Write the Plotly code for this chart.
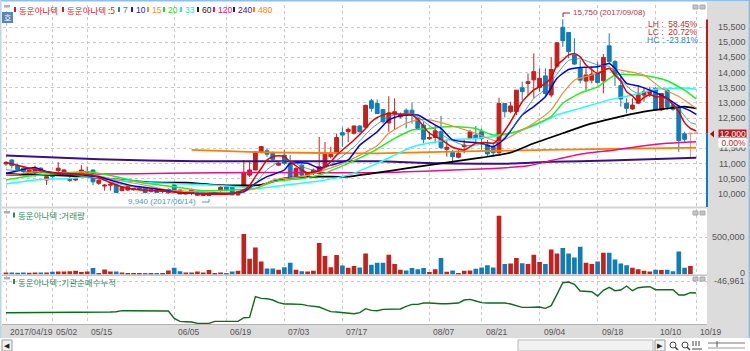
import plotly.graph_objects as go

W, H = 750, 351

opens = [10990,11120,10930,10850,10740,10710,10850,10460,10680,10770,
10720,10450,10460,10680,10700,10790,10350,10260,10290,10300,
10110,10130,10140,10170,10200,10090,10150,10080,10040,10300,
10130,10000,10020,9960,9950,9950,9990,10110,10240,10220,
9970,10290,10620,10790,11390,11420,11340,10950,11280,11010,
10570,10950,10620,10680,10680,10900,11230,11340,12020,12050,
12000,12240,12200,13070,12980,12780,12340,12630,12540,12760,
12760,12490,12270,11820,11860,12050,11470,11370,11210,11560,
11830,11940,12050,11610,11560,11360,12980,12710,12710,13500,
13640,13760,13510,13890,13260,14210,15490,15320,14580,14140,
13720,13750,13970,13730,14880,14360,13570,12990,12800,12990,
13260,13310,13480,12770,13420,12930,12820,11980,11980,12000]
highs = [11080,11140,10990,10910,10820,10930,10880,10630,10720,11050,
10830,10570,10530,10950,10900,10810,10480,10330,10350,10320,
10240,10270,10200,10240,10220,10180,10170,10130,10180,10320,
10150,10060,10180,10040,10050,10050,10070,10260,10260,10240,
10110,11120,11060,11400,11580,11500,11400,11060,11450,11280,
10890,10990,10700,10840,11880,11710,11560,11990,12190,12190,
12250,12260,12940,13130,13110,12800,13220,13150,12680,12820,
13000,12520,12380,12050,12270,12570,11780,11450,11450,11780,
12110,12240,12160,11780,11670,13170,12980,13040,13420,13700,
13970,14630,14140,14140,14500,14980,15750,15320,15130,14410,
14140,14190,14360,14610,15290,14410,13860,13150,13150,13590,
13530,13530,13530,13330,13440,12980,12870,12050,12000,12000]
lows = [10930,10840,10740,10630,10700,10570,10700,10300,10520,10680,
10680,10400,10430,10620,10620,10290,10300,10110,10110,10040,
10090,10100,10110,10130,10020,10050,10030,10020,10010,10060,
9990,9980,9960,9940,9940,9940,9970,10080,10100,9960,
9940,10240,10560,10780,11340,11220,11100,10920,10950,10540,
10540,10590,10550,10620,10640,10880,11170,11320,11550,11710,
11960,12020,12180,12710,12640,12320,12050,12120,12490,12160,
12320,12130,11670,11780,11670,11480,11230,11010,11170,11340,
11800,11670,11450,11230,11230,11320,12520,12660,12600,13090,
13260,13150,13370,13200,13180,14140,14850,14470,14250,13640,
13420,13640,13640,13320,14300,13560,12880,12660,12770,12960,
13040,13200,12740,12740,12770,12740,11390,11720,11210,12000]
closes = [11040,10940,10810,10740,10790,10820,10740,10570,10570,10850,
10790,10480,10490,10790,10730,10400,10450,10290,10320,10050,
10220,10240,10170,10200,10050,10150,10050,10110,10150,10080,
10000,10040,10130,10020,10020,10020,10040,10220,10130,9970,
10080,10710,10790,11390,11560,11310,11140,11010,11010,10550,
10840,10620,10680,10790,10900,11310,11340,11860,11940,12130,
12240,12050,12920,12820,12650,12380,12670,12710,12630,12600,
12600,12160,11800,11860,12080,11530,11540,11230,11340,11610,
12050,11830,11830,11320,11360,12980,12710,12900,13420,13370,
13700,14030,13810,13310,14100,14980,15050,14690,14280,13750,
13920,13950,13670,14500,14360,13950,13130,12820,12930,13260,
13370,13420,12770,13310,12870,12790,11760,11800,12000,12000]
volume_k = [27,27,23,27,23,27,27,27,36,41,41,45,50,32,41,86,18,68,41,41,
27,18,14,14,18,18,18,18,54,90,45,27,27,41,27,59,18,27,18,41,
50,545,212,365,176,81,81,63,99,158,63,45,41,50,423,248,99,261,122,90,
113,95,284,131,158,158,266,140,63,54,86,72,86,32,72,221,36,54,18,50,
54,77,95,126,95,792,140,149,221,153,140,266,167,140,338,284,356,284,230,374,
158,140,176,293,293,203,149,126,90,72,50,41,63,59,63,45,311,90,113,0]
inst_k = [-142,-142,-142,-142,-142,-142,-142,-140,-140,-140,-140,-140,-140,-140,-140,-140,-140,-140,-140,-139,
-136,-136,-136,-136,-136,-136,-136,-136,-137,-159,-168,-169,-170,-174,-174,-174,-168,-168,-168,-168,
-168,-157,-156,-94,-99,-100,-104,-112,-116,-116,-116,-117,-121,-124,-125,-132,-139,-140,-142,-145,
-145,-142,-130,-135,-136,-132,-131,-131,-131,-123,-117,-117,-113,-113,-115,-115,-115,-113,-113,-104,
-102,-107,-112,-113,-113,-115,-113,-116,-121,-126,-126,-125,-125,-129,-121,-87,-52,-50,-57,-77,
-77,-79,-92,-75,-66,-76,-74,-62,-76,-67,-65,-64,-73,-73,-73,-73,-89,-89,-82,-83]

ma5_i = [0,3,6,9,12,15,18,21,24,27,30,33,36,39,41,42,43,44,45,46,47,48,49,50,51,52,54,55,56,57,58,60,62,63,64,66,68,70,71,72,73,75,77,79,81,83,84,85,87,89,91,93,94,95,96,97,98,99,100,102,103,104,105,106,107,108,109,110,111,112,113,114,115,116,117,118,119]
ma5_v = [11040,10900,10770,10680,10660,10620,10370,10190,10120,10100,10050,10010,9990,10010,10130,10280,10570,10840,11120,11230,11260,11230,11060,10930,10790,10700,10770,10900,11060,11280,11450,11780,12160,12380,12520,12660,12630,12600,12460,12220,12000,11800,11540,11450,11670,11690,11670,11830,12380,13040,13430,13640,13840,14250,14410,14580,14630,14520,14250,13970,14060,14140,13920,13720,13370,13230,13040,13180,13280,13200,13200,13150,12930,12710,12350,12160,12080]
ma7_i = [0,6,12,18,24,30,36,41,43,45,47,49,51,54,57,60,63,66,70,73,76,79,83,85,87,89,91,93,95,97,99,102,104,106,108,110,112,114,116,118,119]
ma7_v = [10800,10700,10640,10400,10150,10060,10000,10050,10350,10800,11050,11100,10900,10750,11100,11550,12150,12550,12650,12250,11850,11600,11650,11700,12100,12600,13150,13450,13950,14400,14450,14250,14200,13750,13400,13250,13250,13100,12800,12350,12300]
ma10_i = [0,3,5,7,9,12,14,16,19,22,25,28,30,33,36,39,41,43,45,48,49,52,54,56,59,61,64,66,68,71,73,75,77,79,82,84,86,89,91,93,95,97,99,102,104,105,107,109,111,114,116,118,119]
ma10_v = [10680,10810,10870,10730,10680,10660,10600,10570,10400,10260,10190,10110,10040,10020,10020,10020,10070,10350,10570,10790,11010,11010,10850,10950,11120,11610,12050,12440,12580,12600,12380,12160,11780,11720,11670,11560,11830,12600,12880,13200,13810,14100,14170,14190,14300,14140,13640,13560,13420,13150,12900,12740,12620]
ma15_i = [0,5,9,14,19,24,28,33,39,43,46,51,54,58,61,64,66,69,71,73,77,81,85,88,91,94,96,98,101,104,106,110,113,116,119]
ma15_v = [10620,10730,10700,10680,10460,10290,10130,10080,10040,10180,10460,10570,10730,11000,11280,11590,12000,12330,12440,12440,12240,12000,11720,12000,12330,12770,13320,13750,13920,14140,14080,13920,13480,13210,12820]
ma20_i = [0,4,8,14,19,24,29,34,39,43,46,51,54,59,62,64,67,70,73,77,81,84,88,91,94,96,99,102,105,109,112,114,117,119]
ma20_v = [10460,10590,10660,10730,10570,10350,10240,10110,10130,10180,10400,10510,10620,11010,11280,11480,11830,12110,12160,12220,12160,11940,12050,12270,12550,12990,13320,13530,13920,13920,13840,13730,13420,13130]
ma33_i = [0,5,11,14,19,25,31,36,40,43,48,54,59,64,67,70,76,81,84,88,92,95,99,104,108,112,117,119]
ma33_v = [10330,10460,10510,10570,10480,10370,10330,10290,10240,10180,10290,10430,10620,11010,11280,11550,11780,11830,11890,12050,12330,12600,12820,13100,13260,13450,13490,13450]
ma60_i = [0,8,14,19,25,31,36,40,44,48,54,59,64,69,75,81,87,91,96,100,105,110,114,117,119]
ma60_v = [10680,10620,10570,10480,10380,10370,10300,10280,10300,10510,10570,10570,10700,10840,11010,11170,11360,11670,12000,12270,12510,12710,12820,12880,12820]
ma120_i = [0,17,28,45,64,75,84,90,94,99,105,110,114,119]
ma120_v = [10620,10660,10680,10710,10700,10770,10840,10930,11100,11310,11450,11590,11670,11720]
ma240_i = [0,16,33,64,75,87,94,104,119]
ma240_v = [11270,11140,11075,11075,11010,11000,11060,11100,11195]
ma480_i = [32,45,64,75,87,99,119]
ma480_v = [11450,11370,11340,11390,11430,11470,11525]

price_ticks = [15500,15000,14500,14000,13500,13000,12500,12000,11500,11000,10500,10000]
date_idx = [0,8,14,29,38,48,58,73,82,92,102,112,119]
date_lbl = ["2017/04/19","05/02","05/15","06/05","06/19","07/03","07/17","08/07","08/21","09/04","09/18","10/10","10/19"]

RED, BLUE = "#c4201c", "#0f7db8"
FONT = "Liberation Sans, sans-serif"
KR = "Noto Sans CJK KR"
TXT = "#555555"

def px(x): return x / W
def py(y): return 1 - y / H

idx = list(range(len(opens)))
idx_main = idx[:118]
fig = go.Figure()
fig.add_trace(go.Candlestick(x=idx_main, open=opens[:118], high=highs[:118], low=lows[:118], close=closes[:118],
    increasing=dict(line=dict(color=RED, width=1), fillcolor=RED),
    decreasing=dict(line=dict(color=BLUE, width=1), fillcolor=BLUE), whiskerwidth=0))
fig.add_trace(go.Candlestick(x=idx, open=[None]*118+opens[118:], high=[None]*118+highs[118:], low=[None]*118+lows[118:], close=[None]*118+closes[118:],
    increasing=dict(line=dict(color="#e89090", width=1), fillcolor="#e89090"),
    decreasing=dict(line=dict(color="#e89090", width=1), fillcolor="#e89090"), whiskerwidth=0))

lines = [
    (ma480_i, ma480_v, "#ff8000", 1.8),
    (ma240_i, ma240_v, "#3c0f86", 2),
    (ma120_i, ma120_v, "#e80f88", 1.5),
    (ma60_i, ma60_v, "#000000", 1.8),
    (ma33_i, ma33_v, "#20ffff", 1.5),
    (ma20_i, ma20_v, "#22ee22", 1.5),
    (ma15_i, ma15_v, "#f58a3c", 1.2),
    (ma10_i, ma10_v, "#0000e0", 1.5),
    (ma7_i, ma7_v, "#2a8a8a", 0.8),
    (ma5_i, ma5_v, "#e40000", 1.5),
]
for xs, ys, c, w in lines:
    fig.add_trace(go.Scatter(x=xs, y=ys, mode="lines", line=dict(color=c, width=w, shape="spline", smoothing=0.5)))

vol_colors = [RED if c >= o else BLUE for o, c in zip(opens, closes)]
fig.add_trace(go.Bar(x=idx, y=[v * 1000 for v in volume_k], marker=dict(color=vol_colors, line=dict(width=0)),
                     width=0.8, xaxis="x2", yaxis="y2"))
fig.add_trace(go.Scatter(x=idx, y=[v * 1000 for v in inst_k], mode="lines", line=dict(color="#0e6a1c", width=1.4),
                         xaxis="x3", yaxis="y3"))

xr = [(3 - 6) / 5.8, (707 - 6) / 5.8]
xdom = [px(3), px(707)]
def xax(anchor):
    return dict(domain=xdom, range=xr, anchor=anchor, tickvals=date_idx, showticklabels=False, ticks="",
                showgrid=True, gridcolor="#c9c9c9", griddash="dot", gridwidth=1, zeroline=False, showline=False,
                rangeslider=dict(visible=False), fixedrange=True)
def yax(dom, rng, vals, anchor):
    return dict(domain=[py(dom[1]), py(dom[0])], range=rng, tickvals=vals, showticklabels=False, ticks="",
                showgrid=True, gridcolor="#c9c9c9", griddash="dot", gridwidth=1, zeroline=False, showline=False,
                anchor=anchor, fixedrange=True)

shapes = []
def rect(x0, y0, x1, y1, fill, line=None, layer="below"):
    shapes.append(dict(type="rect", xref="paper", yref="paper", x0=px(x0), x1=px(x1), y0=py(y0), y1=py(y1),
                       fillcolor=fill, line=dict(width=0 if line is None else 1, color=line or fill), layer=layer))
def seg(x0, y0, x1, y1, color, w=1, layer="above"):
    shapes.append(dict(type="line", xref="paper", yref="paper", x0=px(x0), x1=px(x1), y0=py(y0), y1=py(y1),
                       line=dict(color=color, width=w), layer=layer))

rect(0, 0, 750, 351, "#ffffff")
rect(707, 2, 750, 325, "#dcdcdc")
rect(0, 325, 707, 338, "#dcdcdc")
rect(707, 325, 750, 338, "#dcdcdc")
rect(0, 0, 750, 1.5, "#8fc0e8", layer="above")
rect(0, 0, 1.5, 338, "#bcd6ea", layer="above")
rect(748.5, 0, 750, 338, "#8fc0e8", layer="above")
rect(2, 206.5, 707, 208.5, "#d4d4d4", layer="above")
rect(2, 274.5, 707, 276, "#c4c4c4", layer="above")
rect(2, 324, 707, 325, "#b4b4b4", layer="above")
# current price markers on the right edge
shapes.append(dict(type="rect", xref="paper", yref="y", x0=px(706), x1=px(708), y0=12000, y1=15750,
                   fillcolor="#b81c1c", line=dict(width=0), layer="above"))
shapes.append(dict(type="rect", xref="paper", yref="y", x0=px(706), x1=px(708), y0=9571, y1=12000,
                   fillcolor="#0f7db8", line=dict(width=0), layer="above"))
shapes.append(dict(type="path", xref="paper", yref="paper",
                   path=f"M {px(710)},{py(134)} L {px(714)},{py(130.5)} L {px(714)},{py(137.5)} Z",
                   fillcolor="#9a1414", line=dict(width=0), layer="above"))
# small window icons
for y in (5, 211, 277):
    rect(4, y, 10, y + 2.5, "#b0b0b0", layer="above")
    rect(693, y, 698, y + 4, "#c4c4c4", "#a8a8a8", layer="above")
    rect(700, y, 705, y + 4, "#c4c4c4", "#a8a8a8", layer="above")
rect(2, 12, 13, 23, "#5b86b4", layer="above")
# marker lines of the high / low labels
seg(563, 13, 563, 17, "#a82020"); seg(563, 13, 570, 13, "#a82020")
seg(202, 202, 209, 202, "#4a9ac8"); seg(209, 199, 209, 202, "#4a9ac8")
# scrollbar area
rect(2, 340, 12, 351, "#f2f2f2", "#9a9a9a", layer="above")
rect(518, 340, 653, 351, "#f2f2f2", "#b8b8b8", layer="above")
rect(655, 340, 665, 351, "#f2f2f2", "#9a9a9a", layer="above")
for cx in (673, 685):
    shapes.append(dict(type="circle", xref="paper", yref="paper", x0=px(cx - 3), x1=px(cx + 3), y0=py(348), y1=py(342),
                       line=dict(color="#444444", width=1), layer="above"))
    seg(cx + 2, 347, cx + 5, 350, "#444444", 1.5)
for dx in (693, 696, 699):
    seg(dx, 341, dx, 346, "#444444", 1)
seg(692, 349, 702, 349, "#444444", 1)
seg(708, 343, 745, 343, "#777777", 1)
seg(717, 341, 717, 347, "#555555", 1)
seg(708, 348, 745, 348, "#999999", 1)

ann = []
def text(x, y, s, color=TXT, size=8.5, anchor="left", family=FONT, height=None, width=None, bg=None):
    d = dict(xref="paper", yref="paper", x=px(x), y=py(y), text=s, showarrow=False, xanchor=anchor, yanchor="middle",
             font=dict(family=family, size=size, color=color), borderpad=0)
    if height: d["height"] = height
    if width:
        d["width"] = width
        d["align"] = "right"
    if bg: d["bgcolor"] = bg
    ann.append(d)

for i, s in zip(date_idx, date_lbl):
    ann.append(dict(xref="x", yref="paper", x=i, y=py(331.5), text=s, showarrow=False, xanchor="left", yanchor="middle",
                    xshift=2, font=dict(family=FONT, size=8.5, color=TXT)))
for v in price_ticks:
    ann.append(dict(xref="paper", yref="y", x=px(746.5), y=v, text=f"{v:,}", showarrow=False, xanchor="right", yanchor="middle",
                    font=dict(family=FONT, size=9, color=TXT), borderpad=0))
ann.append(dict(xref="paper", yref="y2", x=px(746.5), y=500000, text="500,000", showarrow=False, xanchor="right",
                yanchor="middle", font=dict(family=FONT, size=9, color=TXT)))
ann.append(dict(xref="paper", yref="paper", x=px(746.5), y=py(272.5), text="0", showarrow=False, xanchor="right",
                yanchor="middle", font=dict(family=FONT, size=9, color=TXT)))
ann.append(dict(xref="paper", yref="y3", x=px(746.5), y=-46961, text="-46,961", showarrow=False, xanchor="right",
                yanchor="middle", font=dict(family=FONT, size=9, color=TXT)))

# current price box
text(747, 133.5, "12,000", "#ffffff", 8.5, "right", height=8, width=27, bg="#b81c1c")
text(747, 142, "0.00%", "#c41c1c", 8.5, "right", height=9, width=27, bg="#ffffff")

# legend row
legend = [(15, 18, "동운아나텍", "#d81c1c"), (63, 66, "동운아나텍 :5", "#d81c1c"), (119, 122, "7", "#2a8a8a"),
          (132, 135, "10", "#1a1ae0"), (148, 151, "15", "#f58a3c"), (164, 167, "20", "#22dd22"),
          (181, 184, "33", "#20e8e8"), (198, 201, "60", "#222222"), (214, 217, "120", "#e80f88"),
          (234, 237, "240", "#3c0f86"), (254, 257, "480", "#ff8000")]
for mx, tx, s, c in legend:
    rect(mx - 1, 7, mx + 1, 12, c, layer="above")
    text(tx, 9.5, s, c, 8.5, family=KR if ord(s[0]) > 127 else FONT)
GREEN = "#2e8b57"
rect(13, 212.5, 15, 217.5, GREEN, layer="above")
text(17, 215, "동운아나텍 :거래량", GREEN, 8.5, family=KR)
rect(13, 279, 15, 284, GREEN, layer="above")
text(17, 281.5, "동운아나텍 :기관순매수누적", GREEN, 8.5, family=KR)
text(7.5, 17.5, "호", "#ffffff", 8, "center", KR)

text(572, 13, "15,750 (2017/09/08)", "#a84040", 8)
text(127, 201.5, "9,940 (2017/06/14)", "#4a9ac8", 8)
text(699, 24, "LH :&nbsp;&nbsp;58.45%", "#c43030", 8.5, "right", height=8)
text(699, 32, "LC :&nbsp;&nbsp;20.72%", "#c43030", 8.5, "right", height=8)
text(699, 40, "HC : -23.81%", "#1f88c0", 8.5, "right", height=8)
text(7, 345.5, "◀", "#222222", 7, "center", "DejaVu Sans")
text(660, 345.5, "▶", "#222222", 7, "center", "DejaVu Sans")

fig.update_layout(
    width=W, height=H, margin=dict(l=0, r=0, t=0, b=0), showlegend=False, template=None,
    paper_bgcolor="#ffffff", plot_bgcolor="rgba(0,0,0,0)", boxgap=0.05, bargap=0.2,
    xaxis=xax("y"), xaxis2=xax("y2"), xaxis3=xax("y3"),
    yaxis=yax((5, 207), [9571, 16225], price_ticks, "x"),
    yaxis2=yax((209, 274.5), [0, 882000], [500000], "x2"),
    yaxis3=yax((276, 324), [-175961, -31961], [-46961], "x3"),
    shapes=shapes, annotations=ann,
)
fig.write_html("out.html", config={"displayModeBar": False},
               post_script="document.body.style.margin='0';document.documentElement.style.overflow='hidden';")
